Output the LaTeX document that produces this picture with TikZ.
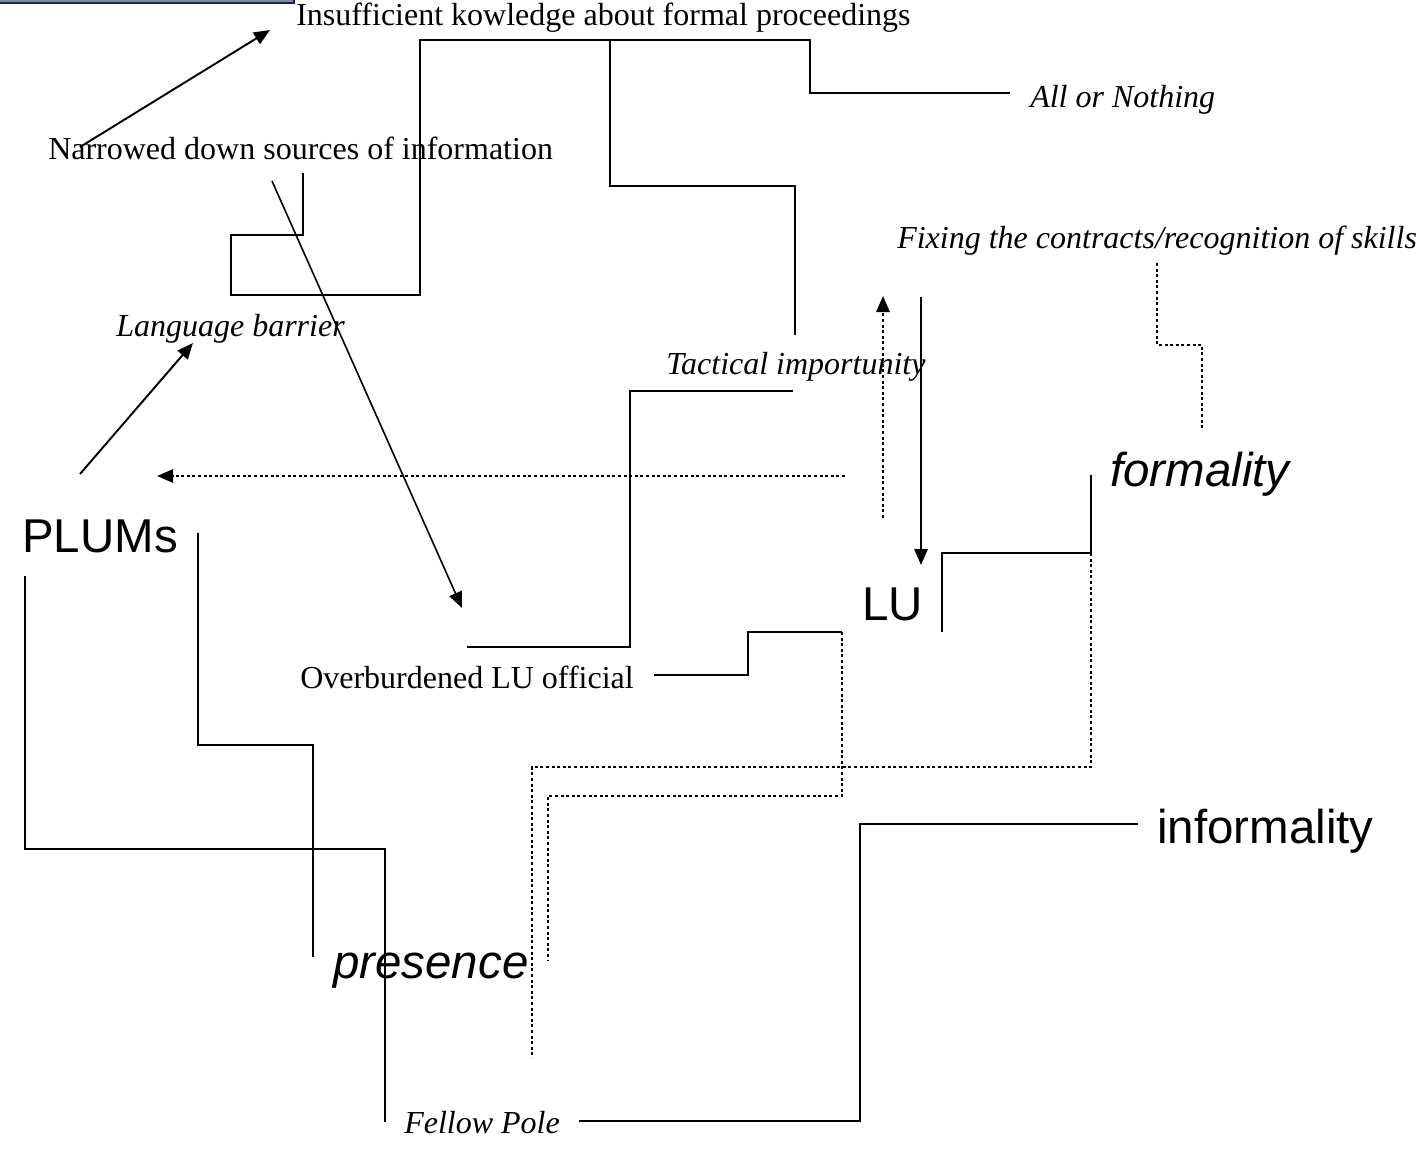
\documentclass[tikz,border=0pt]{standalone}
\usepackage{fontspec}
\setmainfont{Liberation Serif}
\setsansfont{Liberation Sans}
\usetikzlibrary{arrows.meta}
\definecolor{boxblue}{RGB}{110,140,180}
\begin{document}
\begin{tikzpicture}[x=0.75pt,y=-0.75pt,
  conn/.style={line width=1.45pt},
  dots/.style={line width=1.4pt,dash pattern=on 2.2pt off 2pt},
  arr/.style={-{Triangle[length=12pt,width=10pt]}},
  serif/.style={inner sep=0pt,anchor=base west,font=\fontsize{24}{28}\selectfont},
  serifit/.style={serif,font=\fontsize{24}{28}\selectfont\itshape},
  sans/.style={inner sep=0pt,anchor=base west,font=\fontsize{35.6}{40}\selectfont\sffamily},
  sansit/.style={sans,font=\fontsize{35.6}{40}\selectfont\sffamily\itshape}]
\useasboundingbox (0,0) rectangle (1421,1153);
\fill[white] (0,0) rectangle (1421,1153);
% box edge at top left
\draw[fill=boxblue,draw=black!85,line width=1.2pt] (-20,-20) rectangle (294,3);

% text nodes
\node[serif]   (ins)    at (296,25)   {Insufficient kowledge about formal proceedings};
\node[serif]   (narrow) at (48,159)   {Narrowed down sources of information};
\node[serifit] (all)    at (1030,107) {All or Nothing};
\node[serifit] (fix)    at (897,248)  {Fixing the contracts/recognition of skills};
\node[serifit] (lang)   at (116,336)  {Language barrier};
\node[serifit] (tact)   at (666,374)  {Tactical importunity};
\node[sansit]  (formal) at (1110,486) {formality};
\node[sans]    (plums)  at (22,552)   {PLUMs};
\node[sans]    (lu)     at (862,620)  {LU};
\node[serif]   (over)   at (300,688)  {Overburdened LU official};
\node[sans]    (inform) at (1157,843) {informality};
\node[sansit]  (pres)   at (333,978)  {presence};
\node[serifit] (fellow) at (404,1133) {Fellow Pole};

% endpoints
\coordinate (a1s) at (80,147);   \coordinate (a1e) at (270,30);
\coordinate (a2s) at (80,474);   \coordinate (a2e) at (193,343);
\coordinate (a3s) at (845,476);  \coordinate (a3e) at (157,476);
\coordinate (a4s) at (272,181);  \coordinate (a4e) at (462,608);
\coordinate (a5s) at (921,297);  \coordinate (a5e) at (921,565);
\coordinate (a6s) at (883,518);  \coordinate (a6e) at (883,296);

\coordinate (pAs) at (303,173);  \coordinate (pAe) at (1010,93);
\coordinate (pBs) at (610,40);   \coordinate (pBe) at (795,335);
\coordinate (pCs) at (467,647);  \coordinate (pCe) at (793,391);
\coordinate (pDs) at (654,675);  \coordinate (pDm) at (842,632);  \coordinate (pDe) at (548,960);
\coordinate (pEs) at (942,632);  \coordinate (pEm) at (1091,553); \coordinate (pEt) at (1091,475);
\coordinate (pEe) at (532,1058);
\coordinate (pFs) at (1157,263); \coordinate (pFe) at (1202,429);
\coordinate (pGs) at (25,576);   \coordinate (pGe) at (385,1122);
\coordinate (pHs) at (198,533);  \coordinate (pHe) at (313,957);
\coordinate (pIs) at (1138,824); \coordinate (pIe) at (579,1121);

% arrows
\draw[conn,arr] (a1s) -- (a1e);
\draw[conn,arr] (a2s) -- (a2e);
\draw[dots,arr] (a3s) -- (a3e);
\draw[line width=1.2pt,arr] (a4s) -- (a4e);
\draw[conn,arr] (a5s) -- (a5e);
\draw[dots,arr] (a6s) -- (a6e);

% step connectors
\draw[conn] (pAs) -- (303,235) -- (231,235) -- (231,295) -- (420,295) -- (420,40) -- (810,40) -- (810,93) -- (pAe);
\draw[conn] (pBs) -- (610,186) -- (795,186) -- (pBe);
\draw[conn] (pCs) -- (630,647) -- (630,391) -- (pCe);
\draw[conn] (pDs) -- (748,675) -- (748,632) -- (pDm);
\draw[dots] (pDm) -- (842,796) -- (548,796) -- (pDe);
\draw[conn] (pEs) -- (942,553) -- (pEm) -- (pEt);
\draw[dots] (pEm) -- (1091,767) -- (532,767) -- (pEe);
\draw[dots] (pFs) -- (1157,345) -- (1202,345) -- (pFe);
\draw[conn] (pGs) -- (25,849) -- (385,849) -- (pGe);
\draw[conn] (pHs) -- (198,745) -- (313,745) -- (pHe);
\draw[conn] (pIs) -- (860,824) -- (860,1121) -- (pIe);
\end{tikzpicture}
\end{document}
